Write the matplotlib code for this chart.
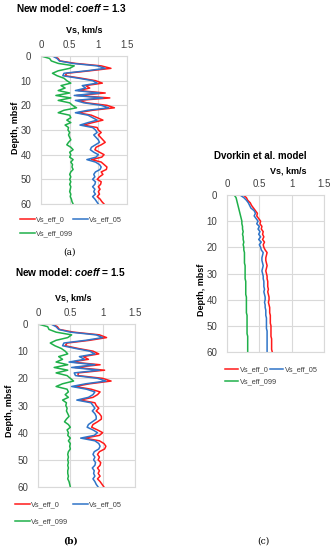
import numpy as np
import matplotlib.pyplot as plt

plt.rcParams['font.family'] = ['Liberation Sans', 'DejaVu Sans']
plt.rcParams['mathtext.fontset'] = 'custom'
plt.rcParams['mathtext.bf'] = 'Liberation Sans:bold:italic'

# depth, mbsf (every 1 m)
depth = np.arange(0, 61)

# (a) New model, coeff = 1.3
a_eff_0 = [0.22, 0.30, 0.33, 0.60, 1.05, 1.22, 0.85, 0.45, 0.42, 0.70,
           0.95, 1.07, 0.78, 0.85, 0.65, 1.12, 0.62, 1.20, 0.66, 0.80,
           1.15, 1.28, 0.90, 0.64, 0.88, 0.98, 1.08, 0.90, 0.74, 0.98,
           1.00, 1.05, 1.00, 1.04, 1.08, 1.12, 1.05, 0.96, 0.94, 1.02,
           1.10, 1.06, 0.88, 1.05, 1.10, 1.15, 1.14, 1.05, 1.08, 1.02,
           0.98, 1.05, 1.04, 1.00, 1.03, 1.00, 1.02, 0.98, 1.03, 1.06, 1.10]
a_eff_05 = [0.20, 0.28, 0.32, 0.55, 0.98, 1.12, 0.80, 0.40, 0.38, 0.65,
            0.90, 0.98, 0.72, 0.78, 0.60, 1.02, 0.58, 1.08, 0.60, 0.75,
            1.05, 1.18, 0.82, 0.60, 0.82, 0.90, 0.98, 0.82, 0.68, 0.90,
            0.95, 0.98, 0.92, 0.96, 1.00, 1.02, 0.95, 0.88, 0.86, 0.92,
            1.00, 0.96, 0.80, 0.95, 1.02, 1.05, 1.03, 0.95, 0.92, 0.94,
            0.90, 0.95, 0.94, 0.90, 0.94, 0.92, 0.95, 0.90, 0.94, 0.97, 1.00]
a_eff_099 = [0.00, 0.15, 0.18, 0.30, 0.58, 0.50, 0.30, 0.20, 0.28, 0.40,
             0.45, 0.52, 0.35, 0.42, 0.30, 0.50, 0.26, 0.52, 0.30, 0.50,
             0.55, 0.62, 0.40, 0.30, 0.50, 0.52, 0.45, 0.52, 0.42, 0.48,
             0.47, 0.50, 0.48, 0.50, 0.52, 0.48, 0.45, 0.52, 0.56, 0.50,
             0.52, 0.50, 0.56, 0.52, 0.55, 0.54, 0.56, 0.52, 0.50, 0.52,
             0.50, 0.52, 0.50, 0.52, 0.51, 0.50, 0.52, 0.51, 0.53, 0.54, 0.56]

# (b) New model, coeff = 1.5
b_eff_0 = [0.22, 0.30, 0.33, 0.55, 0.95, 1.06, 0.80, 0.45, 0.42, 0.62,
           0.85, 0.94, 0.70, 0.78, 0.52, 0.96, 0.57, 1.03, 0.62, 0.62,
           1.00, 1.13, 0.80, 0.57, 0.82, 0.96, 0.92, 0.85, 0.65, 0.88,
           0.90, 0.94, 0.90, 0.95, 0.98, 0.98, 0.92, 0.85, 0.83, 0.92,
           1.00, 0.95, 0.72, 0.95, 1.02, 1.05, 1.03, 0.95, 0.92, 0.95,
           0.93, 0.97, 0.96, 0.92, 0.95, 0.93, 0.96, 0.92, 0.96, 0.99, 1.02]
b_eff_05 = [0.20, 0.28, 0.32, 0.50, 0.90, 1.00, 0.74, 0.40, 0.38, 0.58,
            0.80, 0.88, 0.64, 0.72, 0.48, 0.88, 0.52, 0.95, 0.56, 0.58,
            0.92, 1.05, 0.74, 0.52, 0.75, 0.88, 0.85, 0.78, 0.60, 0.82,
            0.85, 0.88, 0.84, 0.88, 0.90, 0.90, 0.84, 0.78, 0.76, 0.85,
            0.92, 0.87, 0.66, 0.88, 0.94, 0.96, 0.94, 0.87, 0.85, 0.88,
            0.86, 0.89, 0.88, 0.84, 0.87, 0.86, 0.88, 0.85, 0.88, 0.90, 0.93]
b_eff_099 = [0.00, 0.15, 0.17, 0.28, 0.52, 0.46, 0.28, 0.19, 0.26, 0.36,
             0.42, 0.46, 0.32, 0.38, 0.28, 0.46, 0.25, 0.46, 0.28, 0.45,
             0.50, 0.55, 0.38, 0.28, 0.45, 0.47, 0.42, 0.47, 0.38, 0.44,
             0.43, 0.45, 0.44, 0.46, 0.48, 0.44, 0.41, 0.47, 0.50, 0.45,
             0.47, 0.46, 0.50, 0.47, 0.50, 0.49, 0.50, 0.47, 0.46, 0.47,
             0.46, 0.47, 0.46, 0.47, 0.46, 0.46, 0.47, 0.46, 0.48, 0.49, 0.50]

# (c) Dvorkin et al. model
c_eff_0 = [0.25, 0.30, 0.32, 0.36, 0.38, 0.41, 0.44, 0.47, 0.46, 0.49,
           0.52, 0.51, 0.54, 0.53, 0.56, 0.55, 0.57, 0.55, 0.58, 0.56,
           0.57, 0.59, 0.62, 0.61, 0.60, 0.60, 0.61, 0.62, 0.61, 0.60,
           0.61, 0.62, 0.62, 0.63, 0.63, 0.63, 0.64, 0.63, 0.64, 0.65,
           0.65, 0.64, 0.65, 0.66, 0.66, 0.66, 0.67, 0.67, 0.67, 0.67,
           0.68, 0.68, 0.68, 0.68, 0.68, 0.69, 0.69, 0.69, 0.69, 0.69, 0.70]
c_eff_05 = [0.20, 0.26, 0.30, 0.33, 0.35, 0.37, 0.42, 0.44, 0.42, 0.45,
            0.48, 0.46, 0.50, 0.48, 0.51, 0.49, 0.52, 0.49, 0.53, 0.50,
            0.52, 0.53, 0.56, 0.55, 0.54, 0.54, 0.55, 0.56, 0.55, 0.54,
            0.55, 0.56, 0.56, 0.57, 0.57, 0.57, 0.58, 0.57, 0.58, 0.59,
            0.59, 0.58, 0.59, 0.59, 0.60, 0.60, 0.60, 0.61, 0.61, 0.61,
            0.61, 0.61, 0.62, 0.62, 0.62, 0.62, 0.62, 0.62, 0.62, 0.62, 0.62]
c_eff_099 = [0.11, 0.14, 0.15, 0.16, 0.17, 0.18, 0.19, 0.20, 0.21, 0.22,
             0.23, 0.23, 0.24, 0.24, 0.25, 0.24, 0.25, 0.25, 0.26, 0.25,
             0.26, 0.26, 0.27, 0.27, 0.27, 0.27, 0.27, 0.28, 0.28, 0.28,
             0.28, 0.28, 0.28, 0.29, 0.29, 0.29, 0.29, 0.29, 0.29, 0.30,
             0.30, 0.30, 0.30, 0.30, 0.30, 0.30, 0.31, 0.31, 0.31, 0.31,
             0.31, 0.31, 0.31, 0.31, 0.32, 0.32, 0.32, 0.32, 0.32, 0.32, 0.32]

series_names = ['Vs_eff_0', 'Vs_eff_05', 'Vs_eff_099']
colors = ['#ff1a1a', '#2f74c8', '#1fb04a']

W, H = 334, 550
fig = plt.figure(figsize=(W / 100, H / 100), dpi=100)


def px_axes(x0, y0, x1, y1):
    # axes from pixel box (top-left origin)
    return fig.add_axes([x0 / W, 1 - y1 / H, (x1 - x0) / W, (y1 - y0) / H])


def draw_panel(ax, vals, leg_spots, hlen=2.0):
    lines = []
    for v, name, c in zip(vals, series_names, colors):
        ln, = ax.plot(v, depth, color=c, lw=1.1, label=name)
        lines.append(ln)
    ax.set_xlim(0, 1.5)
    ax.set_ylim(60, 0)
    ax.set_xticks([0, 0.5, 1, 1.5])
    ax.set_xticklabels(['0', '0.5', '1', '1.5'])
    ax.set_yticks(range(0, 61, 10))
    ax.xaxis.tick_top()
    ax.tick_params(length=0, labelsize=7, pad=4, colors='#404040')
    ax.tick_params(axis='y', pad=7)
    ax.grid(True, color='#d9d9d9', lw=0.8)
    ax.set_axisbelow(True)
    for s in ax.spines.values():
        s.set_color('#d9d9d9')
        s.set_linewidth(0.8)
    # one small legend per entry, placed like the Excel legend
    for ln, (lx, ly) in zip(lines, leg_spots):
        leg = fig.legend([ln], [ln.get_label()], loc='center left',
                         bbox_to_anchor=(lx / W, 1 - ly / H),
                         frameon=False, fontsize=5.3, handlelength=hlen,
                         handletextpad=0.2, borderpad=0, borderaxespad=0)
        for t in leg.get_texts():
            t.set_color('#404040')


ax_a = px_axes(41, 56, 127, 204)
draw_panel(ax_a, [a_eff_0, a_eff_05, a_eff_099], [(20, 220), (73, 220), (20, 234)])
ax_b = px_axes(38, 324, 135, 487)
draw_panel(ax_b, [b_eff_0, b_eff_05, b_eff_099], [(15, 505), (73, 505), (15, 522)])
ax_c = px_axes(227, 195, 324, 352)
draw_panel(ax_c, [c_eff_0, c_eff_05, c_eff_099], [(225, 370), (270, 370), (225, 382)],
           hlen=1.8)


def ftext(x, y, s, **kw):
    fig.text(x / W, 1 - y / H, s, ha='center', va='center', **kw)


# titles
ftext(72, 8, r'New model: $\mathbf{coeff}$ = 1.3', fontsize=7.3, fontweight='bold')
ftext(71, 272, r'New model: $\mathbf{coeff}$ = 1.5', fontsize=7.3, fontweight='bold')
ftext(260, 156, 'Dvorkin et al. model', fontsize=7, fontweight='bold')

# axis titles
ftext(84, 30, 'Vs, km/s', fontsize=6.5, fontweight='bold')
ftext(73, 298, 'Vs, km/s', fontsize=6.5, fontweight='bold')
ftext(288, 171, 'Vs, km/s', fontsize=6.5, fontweight='bold')
ftext(15, 128, 'Depth, mbsf', fontsize=6.5, fontweight='bold', rotation=90)
ftext(10, 411, 'Depth, mbsf', fontsize=6.5, fontweight='bold', rotation=90)
ftext(202, 290, 'Depth, mbsf', fontsize=6.5, fontweight='bold', rotation=90)

# captions
ftext(70, 252, '(a)', fontsize=6.5, family='DejaVu Serif')
ftext(70, 541, '(b)', fontsize=6.5, family='DejaVu Serif', fontweight='bold')
ftext(263, 541, '(c)', fontsize=6.5, family='DejaVu Serif')

fig.savefig('out.png', dpi=100)
